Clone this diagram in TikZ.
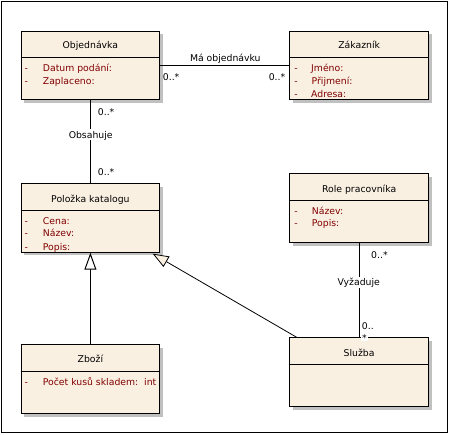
\documentclass[tikz,border=0pt]{standalone}
\usepackage{fontspec}
\setmainfont{DejaVu Sans}
\usetikzlibrary{arrows.meta,calc,shadows}
\definecolor{clsfill}{RGB}{250,240,226}
\definecolor{attrred}{RGB}{128,0,0}
\definecolor{shadowgray}{RGB}{192,192,192}
\tikzset{
  txt/.style={font=\fontsize{9.3}{11}\selectfont, inner sep=0pt, text height=6.8pt, text depth=0pt},
  attrtxt/.style={txt, text=attrred, anchor=west},
  cls/.style={draw=black, line width=1pt, fill=clsfill, anchor=north west, inner sep=0pt,
    drop shadow={shadow xshift=3pt, shadow yshift=-3pt, fill=shadowgray, opacity=1}},
  conn/.style={draw=black, line width=1pt},
  gen/.style={conn, -{Triangle[length=17pt, width=12pt, fill=white]}},
  gen2/.style={conn, line width=0.8pt, -{Triangle[length=16pt, width=12pt, fill=clsfill]}},
  lbl/.style={txt, fill=white, inner xsep=1.5pt, inner ysep=2pt},
  mult/.style={txt},
}
\begin{document}
\begin{tikzpicture}[x=1pt, y=-1pt]
\useasboundingbox (0,0) rectangle (449,434);
\draw[line width=1pt] (1,1) rectangle (447,432);

% class boxes
\node[cls, minimum width=138.8pt, minimum height=68.3pt] (obj) at (20.5,30.7) {};
\node[cls, minimum width=138.7pt, minimum height=68.3pt] (zak) at (289.3,30.7) {};
\node[cls, minimum width=138.8pt, minimum height=68.4pt] (pol) at (20.5,183.3) {};
\node[cls, minimum width=138.8pt, minimum height=68.7pt] (zbozi) at (20.5,344.3) {};
\node[cls, minimum width=138.7pt, minimum height=68.7pt] (role) at (289.3,173.3) {};
\node[cls, minimum width=138.7pt, minimum height=69pt] (sluzba) at (289.3,337.3) {};

% separators
\draw[line width=1pt] (obj.west |- 0,57) -- (obj.east |- 0,57);
\draw[line width=1pt] (zak.west |- 0,57) -- (zak.east |- 0,57);
\draw[line width=1pt] (pol.west |- 0,210) -- (pol.east |- 0,210);
\draw[line width=1pt] (zbozi.west |- 0,371.7) -- (zbozi.east |- 0,371.7);
\draw[line width=1pt] (role.west |- 0,200.7) -- (role.east |- 0,200.7);
\draw[line width=1pt] (sluzba.west |- 0,364) -- (sluzba.east |- 0,364);

% titles
\node[txt] (objT) at (obj.center |- 0,45.5) {Objednávka};
\node[txt] (zakT) at (zak.center |- 0,45.5) {Zákazník};
\node[txt] (polT) at (pol.center |- 0,198.8) {Položka katalogu};
\node[txt] (zboziT) at (zbozi.center |- 0,359.5) {Zboží};
\node[txt] (roleT) at (role.center |- 0,188.8) {Role pracovníka};
\node[txt] (sluzbaT) at (sluzba.center |- 0,352.8) {Služba};

% attributes
\node[attrtxt] (oa1d) at (24.5,67.7) {-};
\node[attrtxt] (oa1) at (42.7,67.7) {Datum podání:};
\node[attrtxt] (oa2d) at (24.5,81) {-};
\node[attrtxt] (oa2) at (42.7,81) {Zaplaceno:};

\node[attrtxt] (za1d) at (294.2,67.7) {-};
\node[attrtxt] (za1) at (311,67.7) {Jméno:};
\node[attrtxt] (za2d) at (294.2,81) {-};
\node[attrtxt] (za2) at (311.5,81) {Přijmení:};
\node[attrtxt] (za3d) at (294.2,93.6) {-};
\node[attrtxt] (za3) at (311,93.6) {Adresa:};

\node[attrtxt] (pa1d) at (24.5,220.8) {-};
\node[attrtxt] (pa1) at (42.7,220.8) {Cena:};
\node[attrtxt] (pa2d) at (24.5,233.5) {-};
\node[attrtxt] (pa2) at (42.7,233.5) {Název:};
\node[attrtxt] (pa3d) at (24.5,246.8) {-};
\node[attrtxt] (pa3) at (42.7,246.8) {Popis:};

\node[attrtxt] (ra1d) at (294.2,210.8) {-};
\node[attrtxt] (ra1) at (311.7,210.8) {Název:};
\node[attrtxt] (ra2d) at (294.2,223.5) {-};
\node[attrtxt] (ra2) at (311.7,223.5) {Popis:};

\node[attrtxt] (ba1d) at (24.5,382.2) {-};
\node[attrtxt] (ba1) at (42.7,382.2) {Počet kusů skladem:\ \ int};

% connectors
\draw[conn] (obj.east) -- (zak.west);
\draw[conn] (obj.south) -- (pol.north);
\draw[conn] (role.south) -- (sluzba.north);
\draw[gen] (zbozi.north) -- (pol.south);
\draw[gen2] ($(sluzba.north west)+(7.4,0)$) -- ($(pol.south east)+(-7.6,1)$);

% association labels
\node[txt] (maob) at (225.3,57.8) {Má objednávku};
\node[mult, anchor=west] (m1) at (162.7,77) {0..*};
\node[mult, anchor=east] (m2) at (285.5,77) {0..*};
\node[lbl] (obs) at (90.7,134.8) {Obsahuje};
\node[mult, anchor=west] (m3) at (97.7,112) {0..*};
\node[mult, anchor=west] (m4) at (97.7,171.7) {0..*};
\node[lbl] (vyz) at (358.7,282.5) {Vyžaduje};
\node[mult, anchor=west] (m5) at (371,255) {0..*};
\node[mult, anchor=west] (m6) at (361.7,326.3) {0..};
\node[mult, anchor=north west, fill=white, text height=5pt, inner xsep=0.8pt, inner ysep=0.3pt] (m7) at (361.2,335.6) {*};
\end{tikzpicture}
\end{document}
